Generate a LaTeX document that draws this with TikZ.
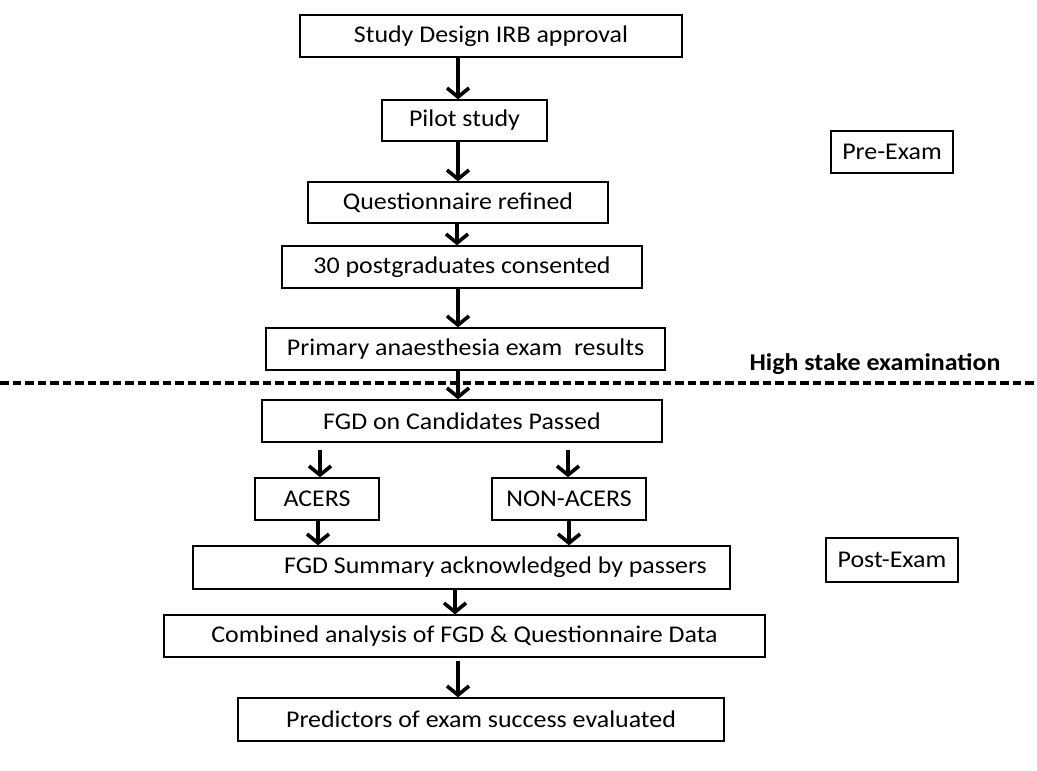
\documentclass[tikz,border=0pt]{standalone}
\usepackage{fontspec}
\setmainfont{Carlito}[FakeStretch=1.08]
\usetikzlibrary{arrows.meta,calc}
\tikzset{
  box/.style={draw=black, line width=1.3pt, inner sep=0pt, minimum height=42pt, font=\fontsize{24}{28}\selectfont},
  arr/.style={line width=3.6pt, -{Straight Barb[length=9pt,width=22pt]}},
  sep/.style={line width=3.2pt, dash pattern=on 8.5pt off 4pt},
  lbl/.style={font=\fontsize{24}{28}\selectfont\bfseries}
}
\begin{document}
\begin{tikzpicture}[x=1pt,y=-1pt]
\useasboundingbox (0,0) rectangle (1037,771);
% boxes
\node[box, minimum width=382pt] (b1) at (491,36) {Study Design IRB approval};
\node[box, minimum width=165pt, minimum height=41pt] (b2) at (464.5,120.5) {Pilot study};
\node[box, minimum width=300pt, minimum height=41pt] (b3) at (458,202.5) {Questionnaire refined};
\node[box, minimum width=360pt] (b4) at (462,267) {30 postgraduates consented};
\node[box, minimum width=399pt] (b5) at (465.5,349) {Primary anaesthesia exam\ \ results};
\node[box, minimum width=400pt] (b6) at (462,421) {FGD on Candidates Passed};
\node[box, minimum width=124pt] (b7) at (317,499) {ACERS};
\node[box, minimum width=154pt] (b8) at (569,499) {NON-ACERS};
\node[box, minimum width=537pt, minimum height=43pt] (b9) at (461.5,567.5) {\hspace*{68pt}FGD Summary acknowledged by passers};
\node[box, minimum width=601pt] (b10) at (464.5,636) {Combined analysis of FGD \& Questionnaire Data};
\node[box, minimum width=486pt, minimum height=43pt] (b11) at (481,719.5) {Predictors of exam success evaluated};
\node[box, minimum width=122pt] (pre) at (892,152) {Pre-Exam};
\node[box, minimum width=132pt, minimum height=44pt] (post) at (892,560) {Post-Exam};
% separator
\coordinate (dl) at (0,383);
\coordinate (dr) at (1037,383);
\draw[sep] (dl) -- (dr);
\node[lbl] (hs) at (875,364) {High stake examination};
% arrow x positions
\coordinate (xa) at (458,0);
\coordinate (xb) at (320,0);
\coordinate (xc) at (568,0);
\coordinate (xd) at (318,0);
\coordinate (xe) at (569,0);
\coordinate (xf) at (455,0);
\coordinate (xg) at (457,0);
% arrows
\draw[arr] (b1.south -| xa) -- (b2.north -| xa);
\draw[arr] (b2.south -| xa) -- (b3.north -| xa);
\draw[arr] (b3.south -| xg) -- (b4.north -| xg);
\draw[arr] (b4.south -| xa) -- (b5.north -| xa);
\draw[arr] (b5.south -| xa) -- (b6.north -| xa);
\draw[arr] ($(b6.south -| xb)+(0,7)$) -- (b7.north -| xb);
\draw[arr] ($(b6.south -| xc)+(0,7)$) -- (b8.north -| xc);
\draw[arr] (b7.south -| xd) -- (b9.north -| xd);
\draw[arr] (b8.south -| xe) -- (b9.north -| xe);
\draw[arr] (b9.south -| xf) -- (b10.north -| xf);
\draw[arr] ($(b10.south -| xa)+(0,3)$) -- (b11.north -| xa);
\end{tikzpicture}
\end{document}
